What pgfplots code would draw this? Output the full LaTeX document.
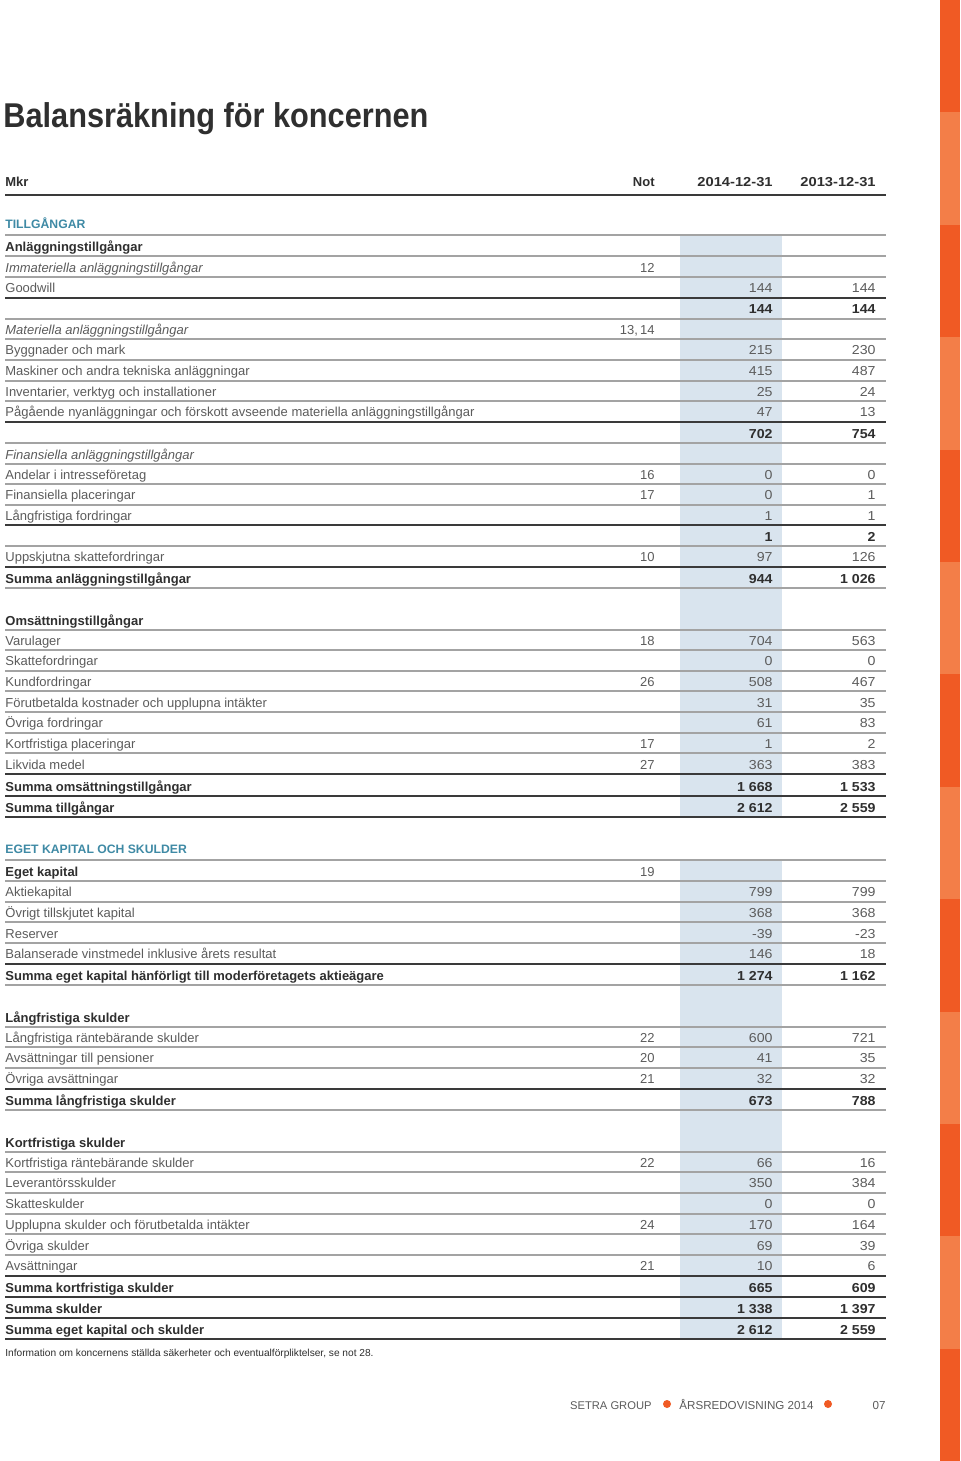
\documentclass[border=0pt]{standalone}
\usepackage{fontspec}
\setmainfont{Liberation Sans}
\newfontfamily\titlefont[FakeStretch=0.893]{Liberation Sans}
\newfontfamily\numfont[FakeStretch=1.09]{Liberation Sans}
\newfontfamily\datefont[FakeStretch=1.13]{Liberation Sans}
\usepackage{pgfplots}
\pgfplotsset{compat=1.18}
\definecolor{txt}{HTML}{5C5C5C}
\definecolor{dark}{HTML}{2F2F2F}
\definecolor{tealc}{HTML}{3F8AA5}
\definecolor{colblue}{HTML}{D9E4EE}
\definecolor{ordark}{HTML}{F05A24}
\definecolor{orlight}{HTML}{F37E48}
\definecolor{rulegray}{HTML}{A3A3A3}
\definecolor{ruledark}{HTML}{3A3A3A}
\tikzset{
  N/.style={font=\fontsize{6.5}{7.8}\selectfont, text=txt},
  I/.style={font=\fontsize{6.5}{7.8}\selectfont\itshape, text=txt},
  B/.style={font=\fontsize{6.5}{7.8}\selectfont\bfseries, text=dark},
  Nn/.style={font=\numfont\fontsize{6.5}{7.8}\selectfont, text=txt},
  In/.style={font=\numfont\fontsize{6.5}{7.8}\selectfont, text=txt},
  Bn/.style={font=\numfont\fontsize{6.5}{7.8}\selectfont\bfseries, text=dark},
  gl/.style={draw=rulegray, line width=0.55pt},
  dl/.style={draw=ruledark, line width=0.6pt},
  tl/.style={draw=ruledark, line width=0.8pt},
}
% y, style, label, note, 2014, 2013
\newcommand\TR[6]{%
  \node[#2, anchor=mid west, inner sep=0pt] at (axis cs:5,#1) {#3};
  \node[N, anchor=mid east, inner sep=0pt] at (axis cs:655,#1) {#4};
  \node[#2n, anchor=mid east, inner sep=0pt] at (axis cs:773,#1) {#5};
  \node[#2n, anchor=mid east, inner sep=0pt] at (axis cs:876,#1) {#6};}
\newcommand\HL[2]{\draw[#2] (axis cs:5,#1) -- (axis cs:886,#1);}
\newcommand\OS[3]{\fill[#3] (axis cs:940,#1) rectangle (axis cs:960,#2);}
\begin{document}
\begin{tikzpicture}
\begin{axis}[scale only axis, width=480pt, height=730.5pt,
  xmin=0, xmax=960, ymin=0, ymax=1461, y dir=reverse,
  hide axis, clip=false]
\fill[white] (axis cs:0,0) rectangle (axis cs:960,1461);
% orange stripe
\OS{0}{112.4}{ordark}\OS{112.4}{224.8}{orlight}\OS{224.8}{337.2}{ordark}
\OS{337.2}{449.5}{orlight}\OS{449.5}{561.9}{ordark}\OS{561.9}{674.3}{orlight}
\OS{674.3}{786.7}{ordark}\OS{786.7}{899.1}{orlight}\OS{899.1}{1011.5}{ordark}
\OS{1011.5}{1123.8}{orlight}\OS{1123.8}{1236.2}{ordark}\OS{1236.2}{1348.6}{orlight}
\OS{1348.6}{1461}{ordark}
% shaded 2014 column
\fill[colblue] (axis cs:680,235) rectangle (axis cs:782,817);
\fill[colblue] (axis cs:680,860) rectangle (axis cs:782,1339);
% title
\node[anchor=base west, inner sep=0pt, text=dark,
  font=\titlefont\fontsize{17.2}{20}\selectfont\bfseries] at (axis cs:3,127) {Balansräkning för koncernen};
% header
\node[B, anchor=mid west, inner sep=0pt] at (axis cs:5,181) {Mkr};
\node[B, anchor=mid east, inner sep=0pt] at (axis cs:655,181) {Not};
\node[anchor=mid east, inner sep=0pt, text=dark, font=\datefont\fontsize{6.5}{7.8}\selectfont\bfseries] at (axis cs:773,181) {2014-12-31};
\node[anchor=mid east, inner sep=0pt, text=dark, font=\datefont\fontsize{6.5}{7.8}\selectfont\bfseries] at (axis cs:876,181) {2013-12-31};
\node[anchor=mid west, inner sep=0pt, text=tealc, font=\fontsize{6.1}{7}\selectfont\bfseries] at (axis cs:5,223) {TILLGÅNGAR};
\node[anchor=mid west, inner sep=0pt, text=tealc, font=\fontsize{6.1}{7}\selectfont\bfseries] at (axis cs:5,848) {EGET KAPITAL OCH SKULDER};
% rules
\HL{195}{tl}
\HL{235}{gl}\HL{256}{gl}\HL{277}{gl}\HL{298}{dl}\HL{319}{gl}\HL{339}{gl}
\HL{360}{gl}\HL{381}{gl}\HL{401}{gl}\HL{422}{dl}\HL{443}{gl}\HL{464}{gl}
\HL{484}{gl}\HL{505}{gl}\HL{525}{dl}\HL{546}{gl}\HL{567}{dl}\HL{588}{gl}
\HL{630}{gl}\HL{650}{gl}\HL{671}{gl}\HL{691}{gl}\HL{712}{gl}\HL{733}{gl}
\HL{753}{gl}\HL{774}{dl}\HL{796}{dl}\HL{817}{tl}
\HL{860}{gl}\HL{881}{gl}\HL{902}{gl}\HL{922}{gl}\HL{943}{gl}\HL{964}{dl}\HL{985}{gl}
\HL{1027}{gl}\HL{1047}{gl}\HL{1068}{gl}\HL{1089}{dl}\HL{1110}{gl}
\HL{1152}{gl}\HL{1172}{gl}\HL{1193}{gl}\HL{1214}{gl}\HL{1234}{gl}\HL{1255}{gl}
\HL{1276}{dl}\HL{1297}{dl}\HL{1318}{dl}\HL{1339}{tl}
% rows
\TR{246}{B}{Anläggningstillgångar}{}{}{}
\TR{267}{I}{Immateriella anläggningstillgångar}{12}{}{}
\TR{287}{N}{Goodwill}{}{144}{144}
\TR{308}{B}{}{}{144}{144}
\TR{329}{I}{Materiella anläggningstillgångar}{13,\,14}{}{}
\TR{349}{N}{Byggnader och mark}{}{215}{230}
\TR{370}{N}{Maskiner och andra tekniska anläggningar}{}{415}{487}
\TR{391}{N}{Inventarier, verktyg och installationer}{}{25}{24}
\TR{411}{N}{Pågående nyanläggningar och förskott avseende materiella anläggningstillgångar}{}{47}{13}
\TR{433}{B}{}{}{702}{754}
\TR{454}{I}{Finansiella anläggningstillgångar}{}{}{}
\TR{474}{N}{Andelar i intresseföretag}{16}{0}{0}
\TR{494}{N}{Finansiella placeringar}{17}{0}{1}
\TR{515}{N}{Långfristiga fordringar}{}{1}{1}
\TR{536}{B}{}{}{1}{2}
\TR{556}{N}{Uppskjutna skattefordringar}{10}{97}{126}
\TR{578}{B}{Summa anläggningstillgångar}{}{944}{1 026}
\TR{620}{B}{Omsättningstillgångar}{}{}{}
\TR{640}{N}{Varulager}{18}{704}{563}
\TR{660}{N}{Skattefordringar}{}{0}{0}
\TR{681}{N}{Kundfordringar}{26}{508}{467}
\TR{702}{N}{Förutbetalda kostnader och upplupna intäkter}{}{31}{35}
\TR{722}{N}{Övriga fordringar}{}{61}{83}
\TR{743}{N}{Kortfristiga placeringar}{17}{1}{2}
\TR{764}{N}{Likvida medel}{27}{363}{383}
\TR{786}{B}{Summa omsättningstillgångar}{}{1 668}{1 533}
\TR{807}{B}{Summa tillgångar}{}{2 612}{2 559}
\TR{871}{B}{Eget kapital}{19}{}{}
\TR{891}{N}{Aktiekapital}{}{799}{799}
\TR{912}{N}{Övrigt tillskjutet kapital}{}{368}{368}
\TR{933}{N}{Reserver}{}{-39}{-23}
\TR{953}{N}{Balanserade vinstmedel inklusive årets resultat}{}{146}{18}
\TR{975}{B}{Summa eget kapital hänförligt till moderföretagets aktieägare}{}{1 274}{1 162}
\TR{1017}{B}{Långfristiga skulder}{}{}{}
\TR{1037}{N}{Långfristiga räntebärande skulder}{22}{600}{721}
\TR{1057}{N}{Avsättningar till pensioner}{20}{41}{35}
\TR{1078}{N}{Övriga avsättningar}{21}{32}{32}
\TR{1100}{B}{Summa långfristiga skulder}{}{673}{788}
\TR{1142}{B}{Kortfristiga skulder}{}{}{}
\TR{1162}{N}{Kortfristiga räntebärande skulder}{22}{66}{16}
\TR{1182}{N}{Leverantörsskulder}{}{350}{384}
\TR{1203}{N}{Skatteskulder}{}{0}{0}
\TR{1224}{N}{Upplupna skulder och förutbetalda intäkter}{24}{170}{164}
\TR{1245}{N}{Övriga skulder}{}{69}{39}
\TR{1265}{N}{Avsättningar}{21}{10}{6}
\TR{1287}{B}{Summa kortfristiga skulder}{}{665}{609}
\TR{1308}{B}{Summa skulder}{}{1 338}{1 397}
\TR{1329}{B}{Summa eget kapital och skulder}{}{2 612}{2 559}
% footnote
\node[anchor=mid west, inner sep=0pt, text=dark, font=\fontsize{5.08}{6}\selectfont] at (axis cs:5,1351) {Information om koncernens ställda säkerheter och eventualförpliktelser, se not 28.};
% footer
\node[anchor=mid east, inner sep=0pt, text=txt, font=\fontsize{5.6}{6.8}\selectfont] at (axis cs:652,1404) {SETRA GROUP};
\fill[ordark] (axis cs:667,1404) circle (2pt);
\node[anchor=mid west, inner sep=0pt, text=txt, font=\fontsize{5.8}{6.8}\selectfont] at (axis cs:679,1404) {ÅRSREDOVISNING 2014};
\fill[ordark] (axis cs:828,1404) circle (2pt);
\node[anchor=mid east, inner sep=0pt, text=txt, font=\fontsize{5.8}{6.8}\selectfont] at (axis cs:886,1404) {07};
\end{axis}
\end{tikzpicture}
\end{document}
